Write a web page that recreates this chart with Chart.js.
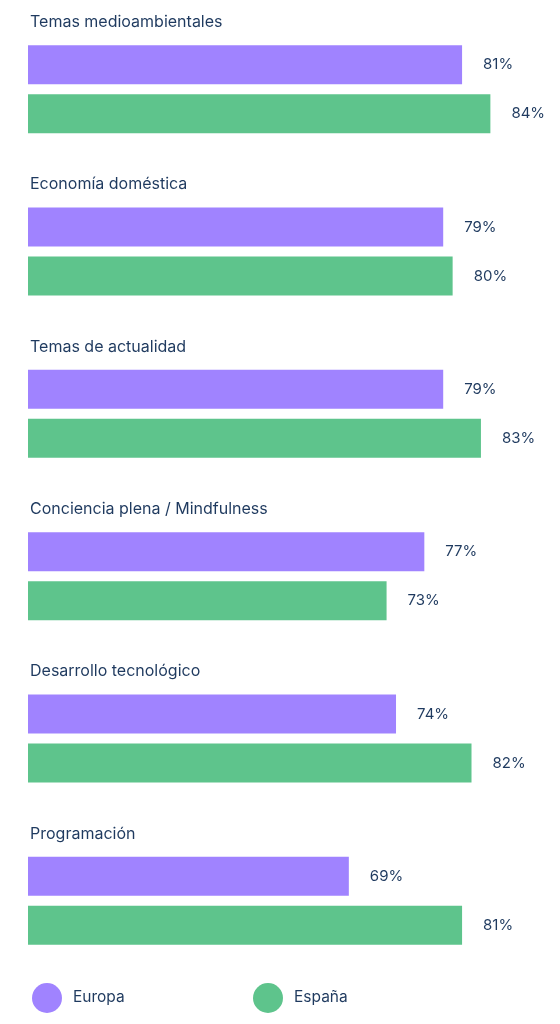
<!DOCTYPE html>
<html>
<head>
<meta charset="utf-8">
<script src="https://cdn.jsdelivr.net/npm/chart.js@4/dist/chart.umd.min.js"></script>
<style>
  html, body { margin: 0; padding: 0; background: #fff; }
  #wrap { width: 560px; height: 1024px; position: relative; }
</style>
</head>
<body>
<div id="wrap"><canvas id="chart"></canvas></div>
<script>
// temas de interés, Europa vs España (% de encuestados)
const CATEGORIES = [
  "Temas medioambientales",
  "Economía doméstica",
  "Temas de actualidad",
  "Conciencia plena / Mindfulness",
  "Desarrollo tecnológico",
  "Programación",
];
const EUROPA = [81, 79, 79, 77, 74, 69];
const ESPANA = [84, 80, 83, 73, 82, 81];
const SERIES_LABELS = ["Europa", "España"];

const PURPLE = "#a083ff";
const GREEN = "#5ec48c";
const INK = "#1f3a5f";
const FONT = "Inter, 'Open Sans', sans-serif";

// títulos de categoría encima de cada par, % a la derecha y leyenda con círculos abajo
const decor = {
  id: "decor",
  afterDatasetsDraw(chart) {
    const ctx = chart.ctx;
    const y = chart.scales.y;
    ctx.save();
    ctx.fillStyle = INK;
    ctx.textBaseline = "middle";
    ctx.font = "16px " + FONT;
    ctx.textAlign = "left";
    chart.data.labels.forEach((lab, i) => {
      ctx.fillText(lab, 30, y.getPixelForValue(i) - 67);
    });
    ctx.font = "15px " + FONT;
    chart.data.datasets.forEach((ds, di) => {
      chart.getDatasetMeta(di).data.forEach((bar, i) => {
        ctx.fillText(ds.data[i] + "%", bar.x + 21, bar.y);
      });
    });
    // leyenda
    const legendX = [47, 268];
    const legendY = 998;
    ctx.font = "15.5px " + FONT;
    chart.data.datasets.forEach((ds, di) => {
      ctx.beginPath();
      ctx.fillStyle = ds.backgroundColor;
      ctx.arc(legendX[di], legendY, 15, 0, Math.PI * 2);
      ctx.fill();
      ctx.fillStyle = INK;
      ctx.fillText(ds.label, legendX[di] + 26, legendY - 1);
    });
    ctx.restore();
  },
};

new Chart(document.getElementById("chart"), {
  type: "bar",
  data: {
    labels: CATEGORIES,
    datasets: [
      { label: SERIES_LABELS[0], data: EUROPA, backgroundColor: PURPLE },
      { label: SERIES_LABELS[1], data: ESPANA, backgroundColor: GREEN },
    ],
  },
  options: {
    indexAxis: "y",
    responsive: true,
    maintainAspectRatio: false,
    animation: false,
    categoryPercentage: 0.604,
    barPercentage: 0.796,
    layout: { padding: { left: 28, right: 13, top: 8, bottom: 42 } },
    scales: {
      x: { display: false, min: 35, max: 90 },
      y: { display: false },
    },
    plugins: { legend: { display: false }, tooltip: { enabled: false } },
  },
  plugins: [decor],
});
</script>
</body>
</html>
